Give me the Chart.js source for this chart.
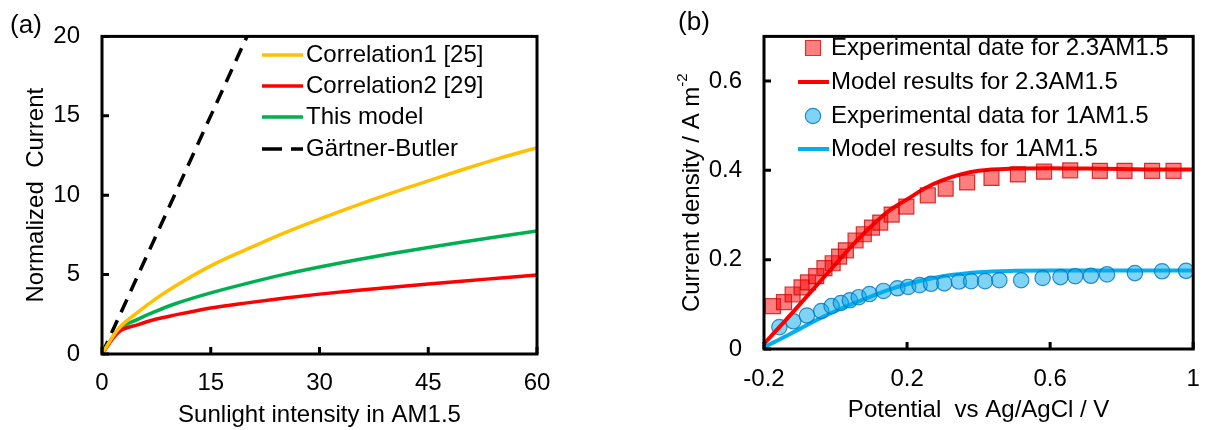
<!DOCTYPE html>
<html>
<head>
<meta charset="utf-8">
<script src="https://cdn.jsdelivr.net/npm/chart.js@4.4.1/dist/chart.umd.min.js"></script>
<style>
  body { margin: 0; background: #fff; overflow: hidden; }
  #wrap { position: relative; width: 1205px; height: 430px; overflow: hidden; }
  canvas { position: absolute; top: 0; }
  #chartA { left: 0; }
  #chartB { left: 605px; }
</style>
</head>
<body>
<div id="wrap">
  <canvas id="chartA" width="600" height="430"></canvas>
  <canvas id="chartB" width="600" height="430"></canvas>
</div>
<script>
// --- DATOS PANEL (a) ---
const intensidad   = [0, 2.2, 5, 7.5, 10, 15, 20, 25, 30, 35, 40, 45, 50, 55, 60];
const correlacion1 = [0, 1.55, 2.65, 3.5, 4.25, 5.55, 6.6, 7.6, 8.5, 9.35, 10.15, 10.9, 11.65, 12.35, 13.0];
const correlacion2 = [0, 1.35, 1.85, 2.2, 2.45, 2.9, 3.22, 3.51, 3.77, 4.0, 4.21, 4.41, 4.6, 4.79, 4.98];
const esteModelo   = [0, 1.5, 2.2, 2.7, 3.15, 3.85, 4.45, 5.0, 5.48, 5.92, 6.33, 6.71, 7.07, 7.42, 7.75];
const gartnerX = [0, 10, 20];
const gartnerY = [0, 10, 20];
const ticksXA = [0, 15, 30, 45, 60];
const ticksYA = [0, 5, 10, 15, 20];

// --- DATOS PANEL (b) ---
const potExp23 = [-0.175, -0.144, -0.120, -0.095, -0.077, -0.054, -0.031, -0.008, 0.010, 0.029, 0.056, 0.079, 0.102, 0.125, 0.157, 0.198, 0.258, 0.308, 0.368, 0.436, 0.510, 0.583, 0.656, 0.739, 0.808, 0.885, 0.945];
const jExp23   = [0.096, 0.105, 0.122, 0.138, 0.149, 0.163, 0.181, 0.192, 0.207, 0.221, 0.243, 0.257, 0.272, 0.283, 0.301, 0.319, 0.344, 0.359, 0.373, 0.383, 0.391, 0.397, 0.400, 0.399, 0.399, 0.399, 0.399];
const potExp1  = [-0.157, -0.118, -0.080, -0.040, -0.011, 0.015, 0.040, 0.065, 0.095, 0.134, 0.173, 0.203, 0.235, 0.267, 0.304, 0.345, 0.379, 0.418, 0.458, 0.519, 0.579, 0.629, 0.670, 0.714, 0.759, 0.837, 0.913, 0.980];
const jExp1    = [0.049, 0.062, 0.075, 0.085, 0.096, 0.103, 0.109, 0.116, 0.123, 0.130, 0.136, 0.139, 0.143, 0.146, 0.147, 0.151, 0.152, 0.152, 0.154, 0.154, 0.159, 0.161, 0.163, 0.164, 0.167, 0.170, 0.174, 0.175];
const potModelo = [-0.2, -0.15, -0.1, -0.05, 0, 0.05, 0.1, 0.15, 0.2, 0.25, 0.3, 0.35, 0.4, 0.5, 0.6, 0.7, 0.8, 0.9, 1.0];
const jMod23    = [0.012, 0.055, 0.10, 0.145, 0.19, 0.235, 0.275, 0.31, 0.335, 0.36, 0.378, 0.391, 0.399, 0.404, 0.405, 0.404, 0.403, 0.402, 0.402];
const jMod1     = [0.004, 0.024, 0.045, 0.066, 0.085, 0.102, 0.118, 0.133, 0.145, 0.155, 0.163, 0.168, 0.172, 0.175, 0.176, 0.176, 0.176, 0.176, 0.176];
const ticksXB = [-0.2, 0.2, 0.6, 1];
const ticksYB = [0, 0.2, 0.4, 0.6];

const FUENTE = "'Liberation Sans', Arial, sans-serif";
Chart.defaults.font.family = FUENTE;
Chart.defaults.font.size = 24;
Chart.defaults.color = '#000';

const pares = (xs, ys) => xs.map((x, i) => ({ x: x, y: ys[i] }));
const fmt = v => String(Math.round(v * 10) / 10);

// marco negro con marcas hacia adentro
const marco = {
  id: 'marco',
  afterDatasetsDraw(chart) {
    const { ctx, chartArea: a, scales: { x, y } } = chart;
    ctx.save();
    ctx.strokeStyle = '#000';
    ctx.lineWidth = 3;
    ctx.beginPath();
    x.ticks.forEach(t => {
      const px = x.getPixelForValue(t.value);
      ctx.moveTo(px, a.bottom); ctx.lineTo(px, a.bottom - 7);
    });
    y.ticks.forEach(t => {
      const py = y.getPixelForValue(t.value);
      ctx.moveTo(a.left, py); ctx.lineTo(a.left + 7, py);
    });
    ctx.stroke();
    ctx.strokeRect(a.left, a.top, a.right - a.left, a.bottom - a.top);
    ctx.restore();
  }
};

// leyenda dentro del area + etiqueta del panel
const leyenda = {
  id: 'leyenda',
  afterDraw(chart, args, o) {
    const ctx = chart.ctx;
    ctx.save();
    ctx.fillStyle = '#000';
    ctx.textBaseline = 'middle';
    ctx.textAlign = 'center';
    ctx.font = '26px ' + FUENTE;
    ctx.fillText(o.panel[0], o.panel[1], o.panel[2]);
    ctx.font = '24px ' + FUENTE;
    ctx.textAlign = 'left';
    chart.data.datasets.forEach((ds, i) => {
      const yy = o.filas[i];
      if (ds.showLine && ds.pointRadius === 0) {
        ctx.strokeStyle = ds.borderColor;
        ctx.lineWidth = ds.borderWidth;
        ctx.setLineDash(ds.borderDash ? o.guion : []);
        ctx.beginPath();
        ctx.moveTo(o.x0, yy); ctx.lineTo(o.x1, yy);
        ctx.stroke();
        ctx.setLineDash([]);
      } else {
        ctx.fillStyle = ds.backgroundColor;
        ctx.strokeStyle = ds.borderColor;
        ctx.lineWidth = ds.borderWidth;
        Chart.helpers.drawPoint(ctx, { pointStyle: ds.pointStyle, radius: ds.pointRadius, rotation: 0, borderWidth: ds.borderWidth }, o.xm, yy);
      }
      ctx.fillStyle = '#000';
      ctx.fillText(ds.label, o.xt, yy);
    });
    if (o.tituloY) {
      const a = chart.chartArea;
      ctx.translate(o.tituloY.x, (a.top + a.bottom) / 2);
      ctx.rotate(-Math.PI / 2);
      ctx.font = '24px ' + FUENTE;
      const w1 = ctx.measureText(o.tituloY.texto).width;
      ctx.font = '15px ' + FUENTE;
      const w2 = ctx.measureText(o.tituloY.sup).width;
      const x0 = -(w1 + w2) / 2;
      ctx.font = '24px ' + FUENTE;
      ctx.fillText(o.tituloY.texto, x0, 0);
      ctx.font = '15px ' + FUENTE;
      ctx.fillText(o.tituloY.sup, x0 + w1, -9);
    }
    ctx.restore();
  }
};

const sinRelleno = s => { s.paddingLeft = 0; s.paddingRight = 0; };

// --- PANEL (a) ---
new Chart(document.getElementById('chartA'), {
  type: 'scatter',
  data: {
    datasets: [
      { label: 'Correlation1 [25]', data: pares(intensidad, correlacion1), showLine: true, pointRadius: 0, borderColor: '#FFC000', borderWidth: 3.5, cubicInterpolationMode: 'monotone' },
      { label: 'Correlation2 [29]', data: pares(intensidad, correlacion2), showLine: true, pointRadius: 0, borderColor: '#FF0000', borderWidth: 3.5, cubicInterpolationMode: 'monotone' },
      { label: 'This model', data: pares(intensidad, esteModelo), showLine: true, pointRadius: 0, borderColor: '#00B050', borderWidth: 3.5, cubicInterpolationMode: 'monotone' },
      { label: 'Gärtner-Butler', data: pares(gartnerX, gartnerY), showLine: true, pointRadius: 0, borderColor: '#000', borderWidth: 3.5, borderDash: [14, 9] }
    ]
  },
  options: {
    responsive: false,
    animation: false,
    layout: { padding: { left: 0, top: 35, right: 63, bottom: 0 } },
    plugins: {
      legend: { display: false },
      tooltip: { enabled: false },
      leyenda: { panel: ['(a)', 26, 26], filas: [55, 86, 117, 149], x0: 262, x1: 303, xm: 282, xt: 306, guion: [20, 9] }
    },
    scales: {
      x: {
        type: 'linear', min: 0, max: 60,
        afterBuildTicks: s => { s.ticks = ticksXA.map(v => ({ value: v })); },
        afterFit: s => { s.height = 76; sinRelleno(s); },
        grid: { display: false, drawTicks: false },
        border: { display: false },
        ticks: { padding: 15, callback: fmt },
        title: { display: true, text: 'Sunlight intensity in AM1.5', padding: { top: 0, bottom: 0.5 } }
      },
      y: {
        type: 'linear', min: 0, max: 20,
        afterBuildTicks: s => { s.ticks = ticksYA.map(v => ({ value: v })); },
        afterFit: s => { s.width = 102; },
        grid: { display: false, drawTicks: false },
        border: { display: false },
        ticks: { padding: 22, callback: fmt },
        title: { display: true, text: 'Normalized  Current', padding: { top: 21.5, bottom: 0 } }
      }
    }
  },
  plugins: [marco, leyenda]
});

// --- PANEL (b) ---
new Chart(document.getElementById('chartB'), {
  type: 'scatter',
  data: {
    datasets: [
      { label: 'Experimental date for 2.3AM1.5', data: pares(potExp23, jExp23), pointStyle: 'rect', pointRadius: 10.6, backgroundColor: 'rgba(255,0,0,0.5)', borderColor: 'rgba(200,0,0,0.75)', borderWidth: 1.2 },
      { label: 'Model results for 2.3AM1.5', data: pares(potModelo, jMod23), showLine: true, pointRadius: 0, borderColor: '#FF0000', borderWidth: 4, cubicInterpolationMode: 'monotone' },
      { label: 'Experimental data for 1AM1.5', data: pares(potExp1, jExp1), pointStyle: 'circle', pointRadius: 7.7, backgroundColor: 'rgba(0,170,235,0.5)', borderColor: 'rgba(0,112,192,0.8)', borderWidth: 1.2 },
      { label: 'Model results for 1AM1.5', data: pares(potModelo, jMod1), showLine: true, pointRadius: 0, borderColor: '#00B0F0', borderWidth: 4, cubicInterpolationMode: 'monotone' }
    ]
  },
  options: {
    responsive: false,
    animation: false,
    layout: { padding: { left: 0, top: 32, right: 5, bottom: 0 } },
    plugins: {
      legend: { display: false },
      tooltip: { enabled: false },
      leyenda: {
        panel: ['(b)', 89, 23], filas: [48, 82, 116, 149], x0: 193, x1: 224, xm: 208, xt: 226,
        tituloY: { x: 87, texto: 'Current density / A m', sup: '-2' }
      }
    },
    scales: {
      x: {
        type: 'linear', min: -0.2, max: 1,
        afterBuildTicks: s => { s.ticks = ticksXB.map(v => ({ value: v })); },
        afterFit: s => { s.height = 81; sinRelleno(s); },
        grid: { display: false, drawTicks: false },
        border: { display: false },
        ticks: { padding: 15.5, callback: fmt },
        title: { display: true, text: 'Potential  vs Ag/AgCl / V', padding: { top: 0, bottom: 5.5 } }
      },
      y: {
        type: 'linear', min: 0, max: 0.7,
        afterBuildTicks: s => { s.ticks = ticksYB.map(v => ({ value: v })); },
        afterFit: s => { s.width = 159; },
        grid: { display: false, drawTicks: false },
        border: { display: false },
        ticks: { padding: 22, callback: fmt },
        title: { display: false }
      }
    }
  },
  plugins: [marco, leyenda]
});
</script>
</body>
</html>
